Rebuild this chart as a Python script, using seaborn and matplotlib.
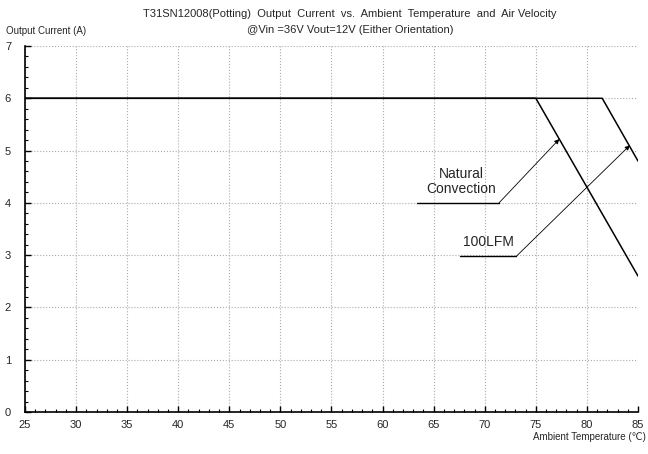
import numpy as np
import pandas as pd
import matplotlib
matplotlib.use('Agg')
import matplotlib.pyplot as plt
import seaborn as sns
from matplotlib.ticker import MultipleLocator

# ~ derating curves
nat_temp = [25, 75, 85]
nat_curr = [6.0, 6.0, 2.6]
lfm_temp = [25, 81.5, 85]
lfm_curr = [6.0, 6.0, 4.8]

xticks = list(range(25, 90, 5))
yticks = list(range(0, 8))

df = pd.concat([
    pd.DataFrame({'temp': nat_temp, 'curr': nat_curr, 'air': 'Natural Convection'}),
    pd.DataFrame({'temp': lfm_temp, 'curr': lfm_curr, 'air': '100LFM'}),
])

sns.set_style('white')
plt.rcParams['font.family'] = ['Liberation Sans', 'DejaVu Sans']

fig = plt.figure(figsize=(6.48, 4.54), dpi=100)
ax = fig.add_axes([25/648, 1-412/454, 613/648, 366/454])

sns.lineplot(data=df, x='temp', y='curr', units='air', estimator=None,
             color='black', lw=1.1, ax=ax, sort=False)

ax.set_xlim(25, 85)
ax.set_ylim(0, 7)
ax.set_xticks(xticks)
ax.set_yticks(yticks)
ax.xaxis.set_minor_locator(MultipleLocator(1))
ax.yaxis.set_minor_locator(MultipleLocator(0.2))
ax.grid(True, which='major', color='#aaaaaa', ls=':', lw=0.8)
ax.tick_params(which='major', direction='in', length=4, width=1, labelsize=8,
               color='black', left=True, bottom=True)
ax.tick_params(which='minor', direction='in', length=2.5, width=0.8,
               color='black', left=True, bottom=True)
ax.tick_params(axis='y', pad=10)
ax.tick_params(axis='x', pad=6)
for s in ['top', 'right']:
    ax.spines[s].set_visible(False)
for s in ['left', 'bottom']:
    ax.spines[s].set_color('black')
    ax.spines[s].set_linewidth(1.2)
ax.set_xlabel('')
ax.set_ylabel('')

# ~ annotations
ax.text(67.7, 4.41, 'Natural\nConvection', ha='center', va='center', fontsize=10,
        linespacing=1.05)
ax.plot([63.4, 71.4], [4.0, 4.0], color='black', lw=1)
ax.annotate('', xy=(77.3, 5.22), xytext=(71.4, 4.0),
            arrowprops=dict(arrowstyle='-|>', color='black', lw=0.6,
                            mutation_scale=7, shrinkA=0, shrinkB=0))
ax.text(70.4, 3.25, '100LFM', ha='center', va='center', fontsize=10)
ax.plot([67.6, 73.1], [2.98, 2.98], color='black', lw=1)
ax.annotate('', xy=(84.2, 5.1), xytext=(73.1, 2.98),
            arrowprops=dict(arrowstyle='-|>', color='black', lw=0.6,
                            mutation_scale=7, shrinkA=0, shrinkB=0))

fig.text(350/648, 1-14/454, 'T31SN12008(Potting)  Output  Current  vs.  Ambient  Temperature  and  Air Velocity',
         ha='center', va='center', fontsize=8)
fig.text(350/648, 1-30/454, '@Vin =36V Vout=12V (Either Orientation)',
         ha='center', va='center', fontsize=8)
fig.text(6/648, 1-31/454, 'Output Current (A)', ha='left', va='center', fontsize=7)
fig.text(646/648, 1-437/454, 'Ambient Temperature (℃)', ha='right', va='center', fontsize=7)

fig.savefig('out.png', dpi=100)
